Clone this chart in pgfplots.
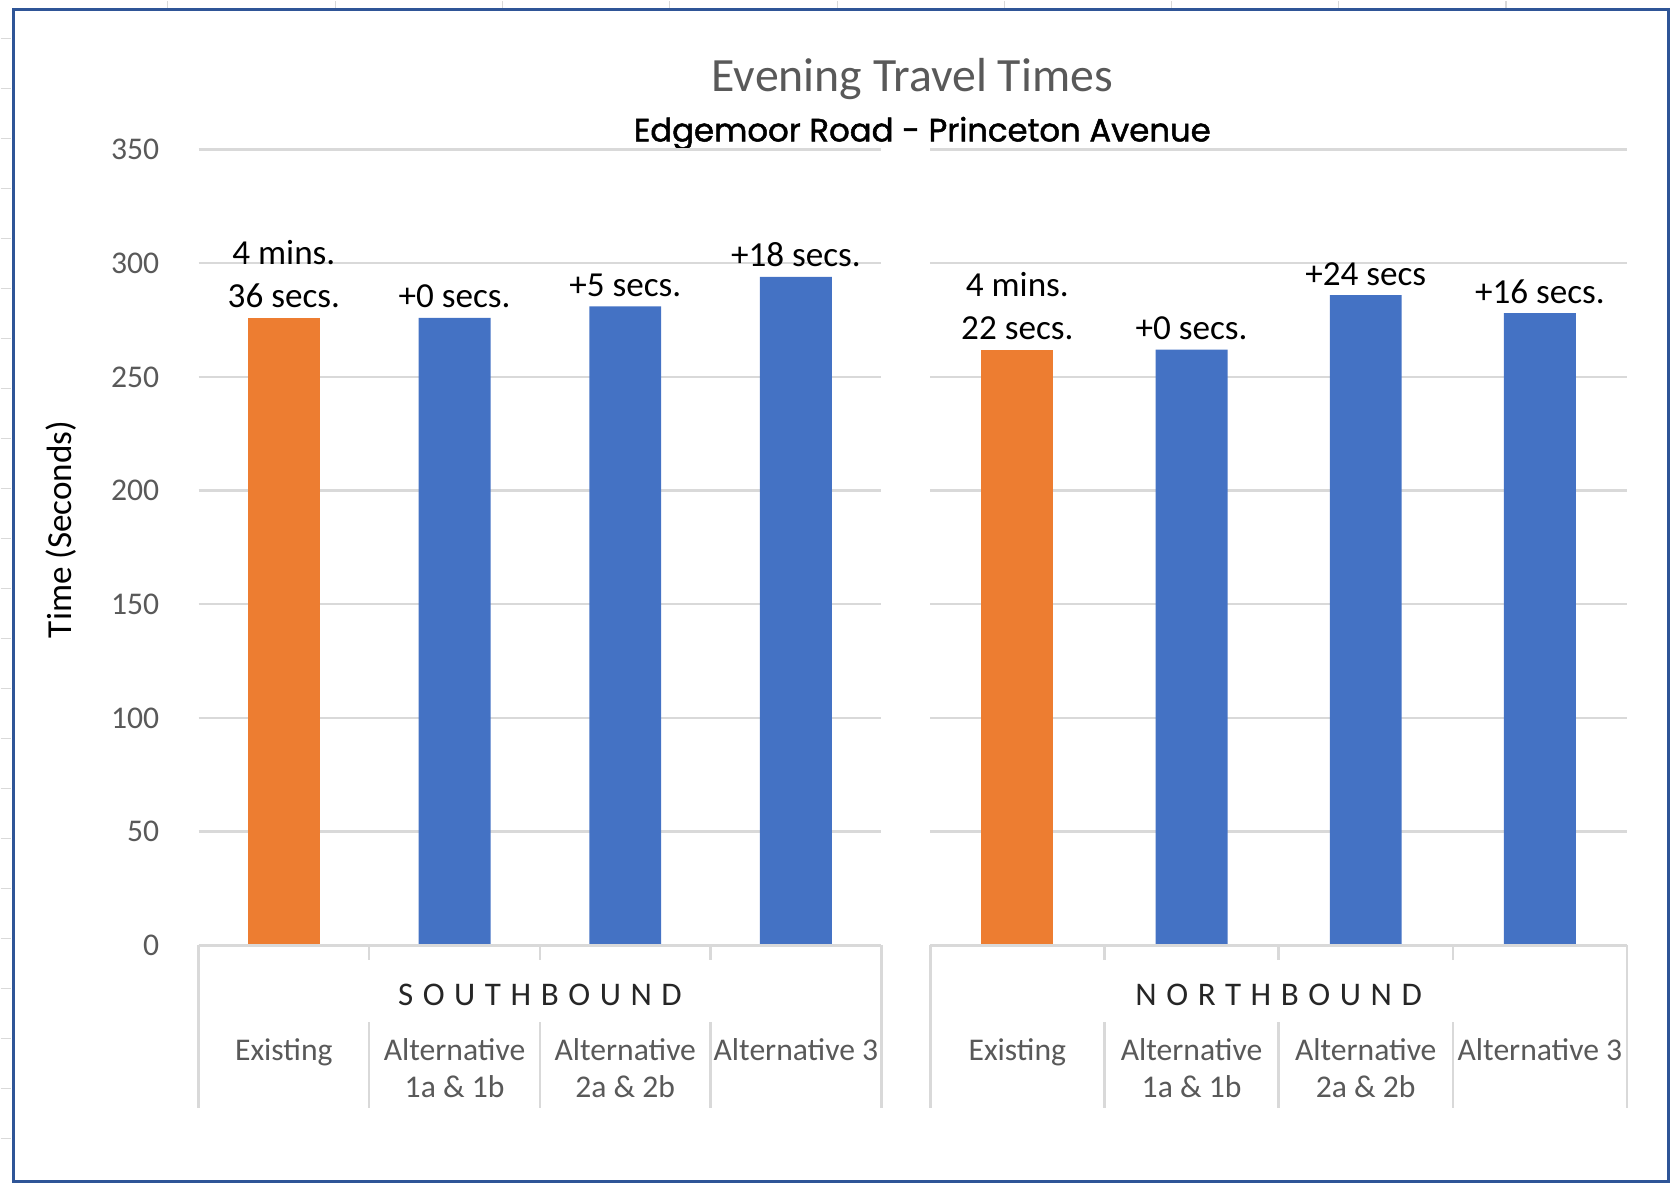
\documentclass[border=0pt]{standalone}
\usepackage{fontspec}
\setmainfont{Carlito}
\newfontfamily\subfont[FakeBold=1.5]{Poppins}
\newfontfamily\spacedfont[LetterSpace=29]{Carlito}
\usepackage{pgfplots}
\pgfplotsset{compat=1.18}
\definecolor{cOrange}{HTML}{ED7D31}
\definecolor{cBlue}{HTML}{4472C4}
\definecolor{cGrid}{HTML}{D9D9D9}
\definecolor{cText}{HTML}{595959}
\definecolor{cDark}{HTML}{262626}
\definecolor{cFrame}{HTML}{2F5597}

\pgfplotstableread{
x y
0 276
}\sbexist
\pgfplotstableread{
x y
1 276
2 281
3 294
}\sbalt
\pgfplotstableread{
x y
0 262
}\nbexist
\pgfplotstableread{
x y
1 262
2 286
3 278
}\nbalt

\pgfplotsset{
  panel/.style={
    scale only axis, height=7.96cm,
    ymin=0, ymax=350, xmin=-0.5, xmax=3.5,
    ybar, bar width=0.72cm, bar shift=0pt,
    axis line style={draw=none},
    tick style={draw=none},
    xtick=\empty,
    ytick={0,50,...,350},
    ymajorgrids,
    major grid style={cGrid, line width=0.025cm},
    clip=false,
    /pgf/number format/assume math mode=true,
  },
}
\tikzset{
  blab/.style={anchor=base, font=\fontsize{10}{12}\selectfont, text=black, inner sep=0pt},
  clab/.style={anchor=base, font=\fontsize{9}{11}\selectfont, text=cText, inner sep=0pt},
  glab/.style={anchor=base, font=\spacedfont\fontsize{9.4}{11}\selectfont, text=cDark, inner sep=0pt},
  boxline/.style={cGrid, line width=0.025cm},
}
\newcommand{\catbox}{%
  \draw[boxline] (axis cs:-0.5,0) -- (axis cs:3.5,0);
  \draw[boxline] (axis cs:-0.5,0) -- ([yshift=-1.63cm]axis cs:-0.5,0);
  \draw[boxline] (axis cs:3.5,0) -- ([yshift=-1.63cm]axis cs:3.5,0);
  \draw[boxline] (axis cs:0.5,0) -- ([yshift=-0.15cm]axis cs:0.5,0);
  \draw[boxline] (axis cs:1.5,0) -- ([yshift=-0.15cm]axis cs:1.5,0);
  \draw[boxline] (axis cs:2.5,0) -- ([yshift=-0.15cm]axis cs:2.5,0);
  \draw[boxline] ([yshift=-0.77cm]axis cs:0.5,0) -- ([yshift=-1.63cm]axis cs:0.5,0);
  \draw[boxline] ([yshift=-0.77cm]axis cs:1.5,0) -- ([yshift=-1.63cm]axis cs:1.5,0);
  \draw[boxline] ([yshift=-0.77cm]axis cs:2.5,0) -- ([yshift=-1.63cm]axis cs:2.5,0);
  \node[clab, yshift=-1.15cm] at (axis cs:0,0) {Existing};
  \node[clab, yshift=-1.15cm] at (axis cs:1,0) {Alternative};
  \node[clab, yshift=-1.52cm] at (axis cs:1,0) {1a \& 1b};
  \node[clab, yshift=-1.15cm] at (axis cs:2,0) {Alternative};
  \node[clab, yshift=-1.52cm] at (axis cs:2,0) {2a \& 2b};
  \node[clab, yshift=-1.15cm] at (axis cs:3,0) {Alternative 3};
}

\begin{document}
\begin{tikzpicture}
\path (0,0) rectangle (16.71,11.85);
% spreadsheet background
\foreach \x in {1.67,3.35,5.02,6.69,8.37,10.04,11.71,13.38,15.06}
  \draw[cGrid, line width=0.012cm] (\x,11.76) -- (\x,11.85);
\foreach \y in {0.47,0.97,...,11.47}
  \draw[cGrid, line width=0.012cm] (0,\y) -- (0.1,\y);
\draw[cFrame, line width=0.03cm] (0.13,0.04) rectangle (16.68,11.765);

% titles
\node[text=cText, font=\fontsize{13.6}{16}\selectfont] at (9.12,11.07) {Evening Travel Times};
\node[text=black, font=\subfont\fontsize{9.2}{11}\selectfont] at (9.22,10.52) {Edgemoor Road - Princeton Avenue};
\node[rotate=90, text=black, font=\fontsize{10}{12}\selectfont] at (0.61,6.56) {Time (Seconds)};

% Southbound
\begin{axis}[panel, at={(1.98cm,2.40cm)}, anchor=south west, width=6.83cm,
  yticklabel style={text=cText, font=\fontsize{9}{11}\selectfont, xshift=-0.27cm}]
\addplot[fill=cOrange, draw=none] table[x=x,y=y] {\sbexist};
\addplot[fill=cBlue, draw=none] table[x=x,y=y] {\sbalt};
\catbox
\node[glab, yshift=-0.60cm] at (axis cs:1.5,0) {SOUTHBOUND};
\node[blab, yshift=0.53cm] at (axis cs:0,276) {4 mins.};
\node[blab, yshift=0.10cm] at (axis cs:0,276) {36 secs.};
\node[blab, yshift=0.10cm] at (axis cs:1,276) {+0 secs.};
\node[blab, yshift=0.10cm] at (axis cs:2,281) {+5 secs.};
\node[blab, yshift=0.10cm] at (axis cs:3,294) {+18 secs.};
\end{axis}

% Northbound
\begin{axis}[panel, at={(9.30cm,2.40cm)}, anchor=south west, width=6.97cm,
  yticklabels={}]
\addplot[fill=cOrange, draw=none] table[x=x,y=y] {\nbexist};
\addplot[fill=cBlue, draw=none] table[x=x,y=y] {\nbalt};
\catbox
\node[glab, yshift=-0.60cm] at (axis cs:1.5,0) {NORTHBOUND};
\node[blab, yshift=0.53cm] at (axis cs:0,262) {4 mins.};
\node[blab, yshift=0.10cm] at (axis cs:0,262) {22 secs.};
\node[blab, yshift=0.10cm] at (axis cs:1,262) {+0 secs.};
\node[blab, yshift=0.10cm] at (axis cs:2,286) {+24 secs};
\node[blab, yshift=0.10cm] at (axis cs:3,278) {+16 secs.};
\end{axis}
\end{tikzpicture}
\end{document}
